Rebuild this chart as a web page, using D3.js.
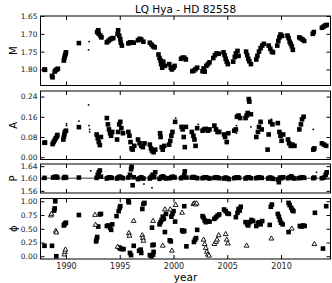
<!DOCTYPE html>
<html>
<head>
<meta charset="utf-8">
<script src="https://cdn.jsdelivr.net/npm/d3@7"></script>
<style>
  body { margin: 0; background: #fff; }
  svg { display: block; font-family: "DejaVu Sans", sans-serif; }
</style>
</head>
<body>
<svg class="chart"></svg>
<script>
// mean magnitude M (year, mag)
var magPoints = [
  [1988.0,1.800],[1988.05,1.801],
  [1988.7,1.818],[1988.75,1.822],
  [1988.95,1.806],[1989.05,1.802],[1989.15,1.800],[1989.25,1.798],
  [1989.8,1.775],[1989.85,1.768],[1989.9,1.762],[1989.95,1.757],[1990.0,1.752],
  [1991.2,1.726],
  [1992.9,1.695],[1993.0,1.690],[1993.05,1.700],[1993.2,1.705],[1993.3,1.710],
  [1993.8,1.724],[1993.95,1.720],[1994.1,1.716],[1994.25,1.713],[1994.4,1.712],
  [1994.8,1.700],[1994.85,1.690],[1994.95,1.705],[1995.05,1.715],[1995.1,1.725],[1995.2,1.733],
  [1995.8,1.727],[1995.95,1.724],[1996.1,1.724],[1996.3,1.725],
  [1996.7,1.718],[1996.85,1.714],[1997.0,1.716],[1997.2,1.722],
  [1997.8,1.725],[1997.95,1.730],[1998.1,1.735],[1998.25,1.738],
  [1998.6,1.758],[1998.7,1.768],[1998.8,1.775],[1998.85,1.785],[1998.95,1.795],[1999.05,1.778],[1999.2,1.790],
  [1999.6,1.785],[1999.75,1.795],[1999.85,1.800],[2000.0,1.795],[2000.1,1.790],
  [2000.7,1.770],[2000.85,1.767],[2001.0,1.767],[2001.15,1.772],
  [2001.75,1.805],[2001.9,1.803],[2002.05,1.799],[2002.2,1.795],
  [2002.7,1.805],[2002.8,1.797],[2002.9,1.806],[2003.05,1.790],[2003.2,1.785],[2003.35,1.780],
  [2003.7,1.768],[2003.85,1.760],[2004.0,1.755],[2004.2,1.756],
  [2004.65,1.752],[2004.75,1.760],[2004.85,1.770],[2004.95,1.778],[2005.05,1.785],
  [2005.55,1.778],[2005.7,1.765],[2005.8,1.755],[2005.95,1.748],[2006.05,1.762],
  [2006.75,1.750],[2006.85,1.760],[2006.95,1.770],[2007.05,1.777],[2007.2,1.785],
  [2007.7,1.772],[2007.8,1.762],[2007.95,1.750],[2008.1,1.740],[2008.25,1.733],[2008.4,1.728],
  [2008.85,1.733],[2009.0,1.742],[2009.15,1.750],[2009.25,1.752],
  [2009.65,1.733],[2009.75,1.720],[2009.85,1.710],[2009.95,1.702],[2010.1,1.706],
  [2010.6,1.705],[2010.7,1.712],[2010.8,1.722],[2010.9,1.728],[2011.0,1.735],[2011.1,1.745],
  [2011.7,1.710],[2011.85,1.713],[2012.0,1.716],[2012.15,1.720],
  [2012.95,1.700],[2013.05,1.695],
  [2013.8,1.683],[2013.95,1.680],[2014.1,1.677],[2014.25,1.675]
];
var magDots = [[1992.15,1.722],[1992.1,1.745]];

// spot amplitude A
var ampPoints = [
  [1988.0,0.057],[1988.05,0.058],
  [1988.75,0.052],[1988.85,0.060],[1988.95,0.068],[1989.05,0.075],[1989.15,0.082],[1989.2,0.088],
  [1989.75,0.070],[1989.8,0.080],[1989.85,0.090],[1989.9,0.100],[1990.0,0.105],
  [1991.2,0.119],
  [1992.85,0.090],[1992.95,0.075],[1993.05,0.060],[1993.15,0.048],[1993.25,0.080],
  [1993.8,0.155],[1993.9,0.130],[1994.0,0.110],[1994.1,0.095],[1994.2,0.085],[1994.3,0.100],
  [1994.75,0.070],[1994.85,0.100],[1994.95,0.130],[1995.05,0.140],[1995.15,0.115],[1995.3,0.095],
  [1995.8,0.100],[1995.9,0.085],[1996.0,0.060],[1996.1,0.035],[1996.2,0.030],[1996.35,0.045],
  [1996.7,0.070],[1996.85,0.055],[1997.0,0.045],[1997.15,0.040],[1997.3,0.055],
  [1997.8,0.050],[1997.9,0.035],[1998.0,0.025],[1998.15,0.020],[1998.3,0.030],
  [1998.75,0.095],[1998.8,0.080],[1998.9,0.040],[1999.0,0.030],[1999.15,0.045],
  [1999.6,0.050],[1999.7,0.065],[1999.8,0.085],[1999.9,0.100],[2000.15,0.140],
  [2000.75,0.120],[2000.85,0.110],[2000.95,0.080],[2001.05,0.040],[2001.15,0.120],
  [2001.7,0.100],[2001.85,0.085],[2001.95,0.070],[2002.05,0.045],[2002.2,0.115],
  [2002.7,0.105],[2002.85,0.110],[2003.0,0.112],[2003.2,0.105],[2003.35,0.110],
  [2003.8,0.125],[2003.95,0.110],[2004.1,0.100],[2004.25,0.100],
  [2004.7,0.090],[2004.8,0.080],[2004.95,0.060],[2005.1,0.095],
  [2005.65,0.105],[2005.8,0.110],[2005.9,0.160],[2006.05,0.165],[2006.2,0.155],
  [2006.7,0.155],[2006.8,0.165],[2006.9,0.175],[2007.0,0.230],[2007.05,0.220],[2007.2,0.170],
  [2007.7,0.080],[2007.85,0.100],[2007.95,0.120],[2008.1,0.140],[2008.2,0.110],
  [2008.75,0.030],[2008.85,0.090],[2009.0,0.140],[2009.2,0.130],
  [2009.7,0.135],[2009.85,0.100],[2009.95,0.085],[2010.05,0.065],[2010.2,0.090],
  [2010.65,0.070],[2010.75,0.055],[2010.9,0.045],[2011.05,0.050],[2011.25,0.045],
  [2011.7,0.110],[2011.85,0.130],[2011.95,0.150],[2012.1,0.160],
  [2013.0,0.030],[2013.1,0.035],
  [2013.8,0.055],[2014.0,0.050],[2014.2,0.045]
];
var ampDots = [
  [1990.05,0.125],[1990.05,0.132],[1991.2,0.143],[1992.1,0.207],[1992.15,0.125],
  [1992.2,0.110],[1992.2,0.100],[2000.2,0.155],[2002.3,0.130],[2005.85,0.095],
  [2005.85,0.112],[2005.85,0.125],[2007.2,0.120],[2009.1,0.150],[2013.0,0.110]
];

// period P (days)
var perPoints = [
  [1988.0,1.602],
  [1988.8,1.603],[1988.95,1.605],[1989.1,1.606],[1989.2,1.603],
  [1989.8,1.602],[1989.9,1.605],[1990.0,1.603],
  [1991.2,1.603],
  [1992.85,1.602],[1992.95,1.612],[1993.05,1.620],[1993.15,1.626],[1993.25,1.606],
  [1993.8,1.600],[1993.95,1.603],[1994.1,1.604],[1994.25,1.602],
  [1994.75,1.600],[1994.85,1.603],[1995.0,1.606],[1995.15,1.603],[1995.3,1.601],
  [1995.8,1.603],[1995.95,1.612],[1996.05,1.630],[1996.1,1.638],[1996.2,1.578],[1996.3,1.604],
  [1996.7,1.598],[1996.85,1.601],[1997.0,1.604],[1997.2,1.600],
  [1997.8,1.600],[1997.9,1.605],[1998.05,1.612],[1998.2,1.604],[1998.3,1.620],
  [1998.7,1.599],[1998.85,1.604],[1999.0,1.607],[1999.15,1.603],[1999.3,1.600],
  [1999.65,1.601],[1999.8,1.604],[1999.95,1.606],[2000.1,1.603],
  [2000.7,1.601],[2000.85,1.604],[2001.0,1.610],[2001.05,1.623],[2001.2,1.603],
  [2001.7,1.603],[2001.85,1.605],[2002.0,1.603],[2002.2,1.601],
  [2002.7,1.601],[2002.85,1.603],[2003.0,1.604],[2003.2,1.602],[2003.35,1.600],
  [2003.8,1.602],[2003.95,1.604],[2004.1,1.603],[2004.25,1.601],
  [2004.7,1.600],[2004.85,1.603],[2005.0,1.601],[2005.15,1.598],
  [2005.65,1.601],[2005.8,1.603],[2005.95,1.604],[2006.1,1.602],
  [2006.7,1.600],[2006.85,1.603],[2007.0,1.604],[2007.2,1.601],
  [2007.7,1.601],[2007.85,1.603],[2008.0,1.604],[2008.2,1.602],
  [2008.8,1.600],[2008.95,1.603],[2009.1,1.602],[2009.25,1.599],
  [2009.7,1.597],[2009.8,1.588],[2009.9,1.603],[2010.05,1.601],[2010.2,1.604],
  [2010.65,1.601],[2010.8,1.604],[2010.95,1.607],[2011.1,1.602],[2011.25,1.600],
  [2011.7,1.601],[2011.85,1.603],[2012.0,1.604],[2012.15,1.602],
  [2013.0,1.601],[2013.1,1.603],
  [2013.8,1.601],[2014.0,1.603],[2014.15,1.612],[2014.25,1.620]
];
var perDots = [[1992.3,1.625],[1997.25,1.582],[1998.0,1.570],[2013.3,1.620]];
var perMean = 1.6011;

// active longitude phase, primary (squares) and secondary (triangles)
var phiPrimary = [
  [1988.0,0.19],[1988.7,0.19],
  [1989.0,1.0],[1988.95,0.87],[1988.9,0.83],
  [1989.1,0.0],
  [1989.8,0.56],[1989.85,0.58],[1989.95,0.60],[1990.0,0.61],
  [1991.2,0.75],
  [1992.8,0.27],[1992.85,0.31],[1992.9,0.35],
  [1993.0,0.54],
  [1993.15,0.76],[1993.25,0.77],
  [1993.8,0.55],[1993.95,0.56],[1994.1,0.52],[1994.2,0.48],[1994.3,0.58],
  [1994.7,0.73],[1994.9,0.82],[1995.0,0.88],[1995.05,0.91],
  [1994.95,0.16],[1995.05,0.14],[1995.2,0.13],[1995.35,0.13],
  [1995.8,1.0],[1995.85,0.98],
  [1995.95,0.06],[1996.05,0.02],
  [1996.3,0.19],
  [1996.8,0.10],[1996.95,0.12],[1997.0,0.06],
  [1997.1,0.86],[1997.2,0.95],[1997.3,0.97],
  [1997.8,0.02],[1997.95,0.0],[1998.1,0.03],[1998.15,0.08],
  [1998.0,0.52],
  [1998.05,0.20],[1998.15,0.21],
  [1998.7,0.58],[1998.8,0.62],[1998.9,0.66],[1999.0,0.72],[1999.1,0.68],[1999.3,0.77],
  [1999.2,0.44],
  [1999.65,0.29],[1999.75,0.27],
  [1999.8,0.72],[1999.9,0.77],[2000.0,0.82],[2000.15,0.63],
  [2000.8,0.47],[2000.9,0.45],[2001.0,0.46],
  [2001.0,0.91],
  [2001.2,0.18],
  [2001.9,0.26],[2002.0,0.30],[2002.1,0.33],
  [2002.2,0.48],
  [2002.7,0.73],[2002.8,0.70],[2002.9,0.65],[2003.0,0.62],[2003.2,0.64],[2003.35,0.63],
  [2003.8,0.68],[2003.95,0.71],[2004.1,0.74],[2004.25,0.76],
  [2004.7,0.85],[2004.85,0.82],[2005.0,0.78],[2005.15,0.77],
  [2005.8,0.71],[2005.95,0.79],[2006.05,0.86],[2006.15,0.83],[2006.25,0.90],
  [2006.7,0.62],[2006.85,0.58],[2006.95,0.56],[2007.1,0.62],[2007.25,0.66],[2007.4,0.64],
  [2007.7,0.55],[2007.85,0.60],[2007.95,0.62],[2008.1,0.58],[2008.25,0.64],
  [2008.95,0.57],
  [2009.05,0.90],[2009.15,0.94],
  [2009.7,0.77],[2009.8,0.72],[2009.9,0.66],[2010.0,0.61],[2010.15,0.58],
  [2010.7,0.44],
  [2010.7,0.97],[2010.8,0.93],[2010.95,0.88],[2011.05,0.84],[2011.15,0.82],
  [2011.75,0.55],[2011.9,0.54],[2012.05,0.56],[2012.2,0.55],
  [2013.15,0.79],
  [2013.9,0.14],
  [2014.2,0.91]
];
var phiSecondary = [
  [1988.6,0.74],[1988.65,0.77],
  [1989.05,0.46],[1989.1,0.43],
  [1989.85,0.03],[1989.9,0.08],[1989.95,0.12],
  [1992.7,0.75],[1992.75,0.57],
  [1994.8,0.17],
  [1995.85,0.42],[1995.9,0.37],
  [1996.3,0.64],
  [1997.1,0.38],[1997.15,0.33],[1997.2,0.28],
  [1998.1,0.64],
  [1999.0,0.19],
  [1999.2,0.85],
  [1999.7,0.85],
  [1999.85,0.10],
  [2000.2,0.93],
  [2000.8,0.79],
  [2001.85,0.95],[2001.95,0.96],[2002.05,0.94],[2002.15,0.96],
  [2002.8,0.30],[2002.9,0.22],[2003.0,0.15],[2003.1,0.08],[2003.2,0.03],[2003.3,0.01],
  [2003.8,0.22],[2003.95,0.26],[2004.05,0.30],[2004.2,0.38],
  [2004.85,0.40],[2004.95,0.30],[2005.05,0.23],
  [2006.8,0.19],
  [2009.1,0.32],
  [2011.0,0.50],
  [2013.1,0.22]
];

var yearTicks = [1990, 1995, 2000, 2005, 2010];
var magTicks = [1.65, 1.70, 1.75, 1.80];
var ampTicks = [0.00, 0.08, 0.16, 0.24];
var perTicks = [1.56, 1.60, 1.64];
var phiTicks = [0.00, 0.25, 0.50, 0.75, 1.00];

function show() {
    'use strict';
    var width = 332, height = 283;
    var left = 40.5, right = 330.5;

    var svg = d3.select(".chart")
        .attr("width", width)
        .attr("height", height);

    var x = d3.scaleLinear().domain([1987.63, 2014.6]).range([left, right]);

    var panels = [
        {label: "M", top: 16, bottom: 85.5, domain: [1.65, 1.845], ticks: magTicks, fmt: d3.format(".2f"),
         squares: magPoints, dots: magDots},
        {label: "A", top: 91, bottom: 159.5, domain: [0.262, -0.009], ticks: ampTicks, fmt: d3.format(".2f"),
         squares: ampPoints, dots: ampDots},
        {label: "P", top: 164, bottom: 193, domain: [1.647, 1.553], ticks: perTicks, fmt: d3.format(".2f"),
         squares: perPoints, dots: perDots, line: perMean},
        {label: "\u03d5", top: 198.5, bottom: 259, domain: [1.05, -0.05], ticks: phiTicks, fmt: d3.format(".2f"),
         squares: phiPrimary, triangles: phiSecondary, xlabels: true}
    ];

    var sq = 4.6;
    var tri = d3.symbol().type(d3.symbolTriangle).size(10);

    panels.forEach(function(p) {
        var y = d3.scaleLinear().domain(p.domain).range([p.top, p.bottom]);
        var g = svg.append("g");

        if (p.line !== undefined) {
            g.append("line")
                .attr("x1", left).attr("x2", right)
                .attr("y1", y(p.line)).attr("y2", y(p.line))
                .attr("stroke", "#000").attr("stroke-width", 0.8);
        }

        g.selectAll("rect.sq").data(p.squares).enter().append("rect")
            .attr("class", "sq")
            .attr("x", function(d) { return x(d[0]) - sq / 2; })
            .attr("y", function(d) { return y(d[1]) - sq / 2; })
            .attr("width", sq).attr("height", sq)
            .attr("fill", "#000");

        if (p.dots) {
            g.selectAll("rect.dot").data(p.dots).enter().append("rect")
                .attr("class", "dot")
                .attr("x", function(d) { return x(d[0]) - 0.8; })
                .attr("y", function(d) { return y(d[1]) - 0.8; })
                .attr("width", 1.6).attr("height", 1.6)
                .attr("fill", "#000");
        }

        if (p.triangles) {
            g.selectAll("path.tri").data(p.triangles).enter().append("path")
                .attr("class", "tri")
                .attr("d", tri)
                .attr("transform", function(d) { return "translate(" + x(d[0]) + "," + y(d[1]) + ")"; })
                .attr("fill", "#fff").attr("stroke", "#000").attr("stroke-width", 0.9);
        }

        // frame
        g.append("rect")
            .attr("x", left).attr("y", p.top)
            .attr("width", right - left).attr("height", p.bottom - p.top)
            .attr("fill", "none").attr("stroke", "#000").attr("stroke-width", 1);

        var axL = g.append("g").attr("transform", "translate(" + left + ",0)")
            .call(d3.axisLeft(y).tickValues(p.ticks).tickFormat(p.fmt).tickSizeInner(-4).tickSizeOuter(0).tickPadding(3));
        var axR = g.append("g").attr("transform", "translate(" + right + ",0)")
            .call(d3.axisRight(y).tickValues(p.ticks).tickFormat("").tickSizeInner(-4).tickSizeOuter(0));
        var axT = g.append("g").attr("transform", "translate(0," + p.top + ")")
            .call(d3.axisTop(x).tickValues(yearTicks).tickFormat("").tickSizeInner(-4).tickSizeOuter(0));
        var axB = g.append("g").attr("transform", "translate(0," + p.bottom + ")")
            .call(d3.axisBottom(x).tickValues(yearTicks).tickFormat(p.xlabels ? d3.format("d") : "")
                  .tickSizeInner(-4).tickSizeOuter(0).tickPadding(4));

        [axL, axR, axT, axB].forEach(function(a) {
            a.select(".domain").remove();
            a.selectAll("line").attr("stroke", "#000");
            a.selectAll("text").attr("font-size", "7.5px").attr("fill", "#222")
                .attr("font-family", "DejaVu Sans, sans-serif");
        });
        axB.selectAll("text").attr("font-size", "8px");

        svg.append("text")
            .attr("transform", "translate(13," + ((p.top + p.bottom) / 2) + ") rotate(-90)")
            .attr("text-anchor", "middle")
            .attr("dy", "0.35em")
            .attr("font-size", "10px")
            .text(p.label);
    });

    svg.append("text")
        .attr("x", (left + right) / 2).attr("y", 13)
        .attr("text-anchor", "middle")
        .attr("font-size", "10.5px")
        .text("LQ Hya - HD 82558");

    svg.append("text")
        .attr("x", (left + right) / 2).attr("y", 281)
        .attr("text-anchor", "middle")
        .attr("font-size", "10.5px")
        .text("year");
}
show();
</script>
</body>
</html>
